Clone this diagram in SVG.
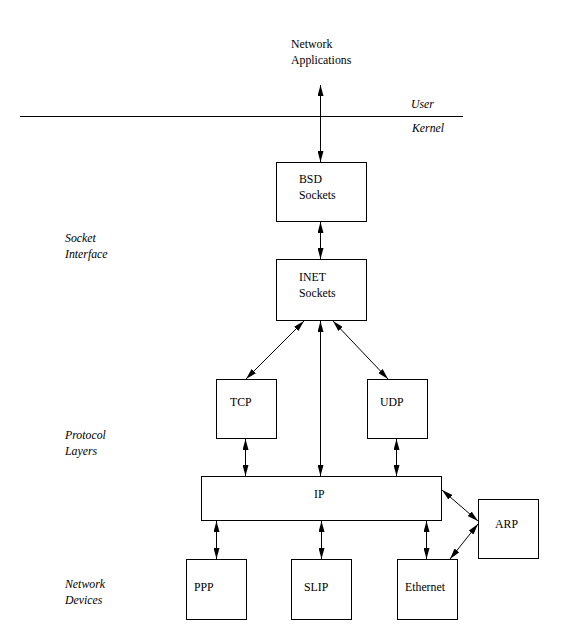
<svg xmlns="http://www.w3.org/2000/svg" width="578" height="641" viewBox="0 0 578 641">
<defs>
<marker id="ah" viewBox="0 0 11 6" refX="11" refY="3" markerWidth="11" markerHeight="6" markerUnits="userSpaceOnUse" orient="auto-start-reverse">
<path d="M0,0 L11,3 L0,6 z" fill="#000"/>
</marker>
<style>
.box{fill:#fff;stroke:#000;stroke-width:1}
.t{font-family:"Liberation Serif",serif;font-size:11.8px;fill:#000}
.i{font-family:"Liberation Serif",serif;font-size:11.8px;font-style:italic;fill:#000}
.c{stroke:#000;stroke-width:1;fill:none;marker-start:url(#ah);marker-end:url(#ah)}
</style>
</defs>
<rect width="578" height="641" fill="#fff"/>
<line x1="20" y1="116.5" x2="463" y2="116.5" stroke="#000" stroke-width="1"/>
<g id="labels">
<text class="t" x="291" y="48">Network</text>
<text class="t" x="291" y="64">Applications</text>
<text class="i" x="411" y="108">User</text>
<text class="i" x="412" y="132">Kernel</text>
<text class="i" x="65" y="242">Socket</text>
<text class="i" x="65" y="258">Interface</text>
<text class="i" x="65" y="439">Protocol</text>
<text class="i" x="65" y="455">Layers</text>
<text class="i" x="65" y="588">Network</text>
<text class="i" x="65" y="604">Devices</text>
</g>
<g id="connectors">
<line class="c" x1="320.5" y1="85" x2="320.5" y2="162"/>
<line class="c" x1="320.5" y1="222" x2="320.5" y2="259"/>
<line class="c" x1="304" y1="321" x2="246" y2="379"/>
<line class="c" x1="333" y1="321" x2="388" y2="379"/>
<line class="c" x1="320.5" y1="321" x2="320.5" y2="476"/>
<line class="c" x1="245.5" y1="439" x2="245.5" y2="476"/>
<line class="c" x1="396.5" y1="439" x2="396.5" y2="476"/>
<line class="c" x1="216.5" y1="521" x2="216.5" y2="559"/>
<line class="c" x1="321.5" y1="521" x2="321.5" y2="559"/>
<line class="c" x1="426.5" y1="521" x2="426.5" y2="559"/>
<line class="c" x1="442" y1="490" x2="478" y2="521"/>
<line class="c" x1="450" y1="559" x2="478" y2="524"/>
</g>
<g id="bsd"><rect class="box" x="276.5" y="162.5" width="90" height="59"/><text class="t" x="299" y="183">BSD</text><text class="t" x="299" y="199">Sockets</text></g>
<g id="inet"><rect class="box" x="276.5" y="259.5" width="90" height="61"/><text class="t" x="299" y="281">INET</text><text class="t" x="299" y="297">Sockets</text></g>
<g id="tcp"><rect class="box" x="216.5" y="379.5" width="60" height="59"/><text class="t" x="230" y="406">TCP</text></g>
<g id="udp"><rect class="box" x="367.5" y="379.5" width="60" height="59"/><text class="t" x="380" y="406">UDP</text></g>
<g id="ip"><rect class="box" x="201.5" y="476.5" width="240" height="44"/><text class="t" x="314" y="498">IP</text></g>
<g id="arp"><rect class="box" x="478.5" y="499.5" width="60" height="59"/><text class="t" x="495" y="528">ARP</text></g>
<g id="ppp"><rect class="box" x="186.5" y="559.5" width="60" height="60"/><text class="t" x="194" y="591">PPP</text></g>
<g id="slip"><rect class="box" x="291.5" y="559.5" width="60" height="60"/><text class="t" x="304" y="591">SLIP</text></g>
<g id="ethernet"><rect class="box" x="397.5" y="559.5" width="60" height="60"/><text class="t" x="405" y="591">Ethernet</text></g>
</svg>
